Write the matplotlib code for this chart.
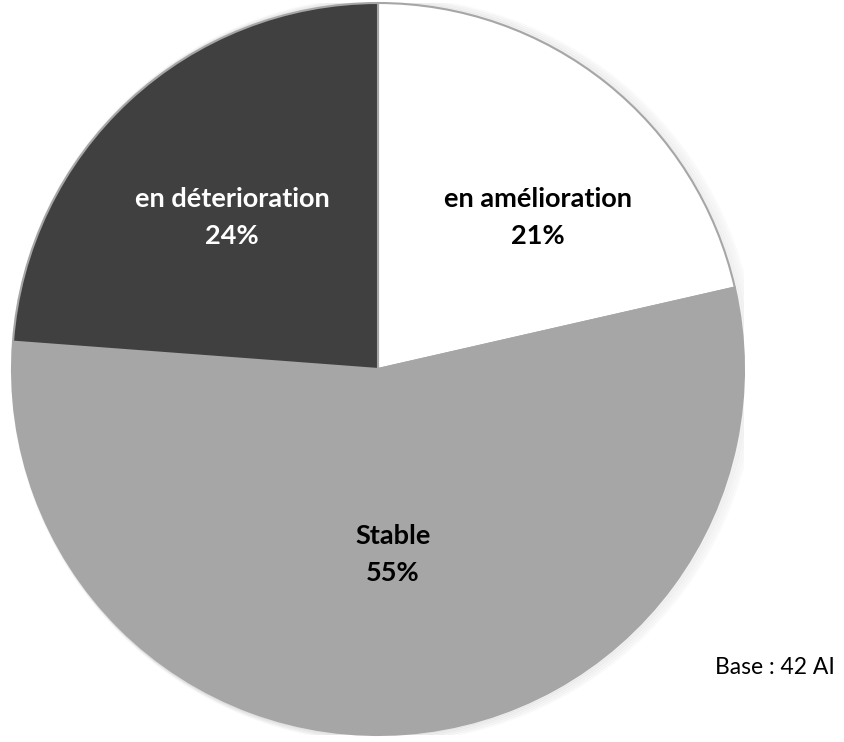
import matplotlib.pyplot as plt
from matplotlib.patches import Circle

# Data: 42 answers
categories = ['en amélioration', 'Stable', 'en déterioration']
counts = [9, 23, 10]
colors = ['#ffffff', '#a6a6a6', '#404040']
text_colors = ['#000000', '#000000', '#ffffff']
base_note = 'Base : 42 AI'

W, H = 844, 742
fig = plt.figure(figsize=(W / 100, H / 100), dpi=100)
cx, cy, r = 378, 369, 366
ax = fig.add_axes([(cx - r) / W, (H - cy - r) / H, 2 * r / W, 2 * r / H])
ax.set_xlim(-1, 1)
ax.set_ylim(-1, 1)
ax.set_aspect('equal')
ax.axis('off')

# soft shadow around the pie
for i, a in enumerate([0.05, 0.05, 0.04, 0.03, 0.02]):
    ax.add_patch(Circle((0.004 + 0.003 * i, -0.002), 1.0 + 0.004 * i,
                        facecolor='none', edgecolor='black', alpha=a,
                        lw=2, zorder=0))

wedges, _ = ax.pie(counts, colors=colors, startangle=90, counterclock=False,
                   radius=1.0, wedgeprops=dict(edgecolor='#a6a6a6', linewidth=1.5))
ax.set_xlim(-1, 1)
ax.set_ylim(-1, 1)

label_pos = [(0.437, 0.413), (0.041, -0.508), (-0.399, 0.413)]
total = sum(counts)
for name, n, (x, y), tc in zip(categories, counts, label_pos, text_colors):
    pct = round(100 * n / total)
    ax.text(x, y, f'{name}\n{pct}%', ha='center', va='center', color=tc,
            fontsize=19.5, fontweight='bold', family=['Lato', 'DejaVu Sans'],
            linespacing=1.65)

fig.text(715 / W, 1 - 667 / H, base_note, ha='left', va='center',
         fontsize=16.5, family=['Lato', 'DejaVu Sans'])

fig.savefig('out.png', dpi=100)
